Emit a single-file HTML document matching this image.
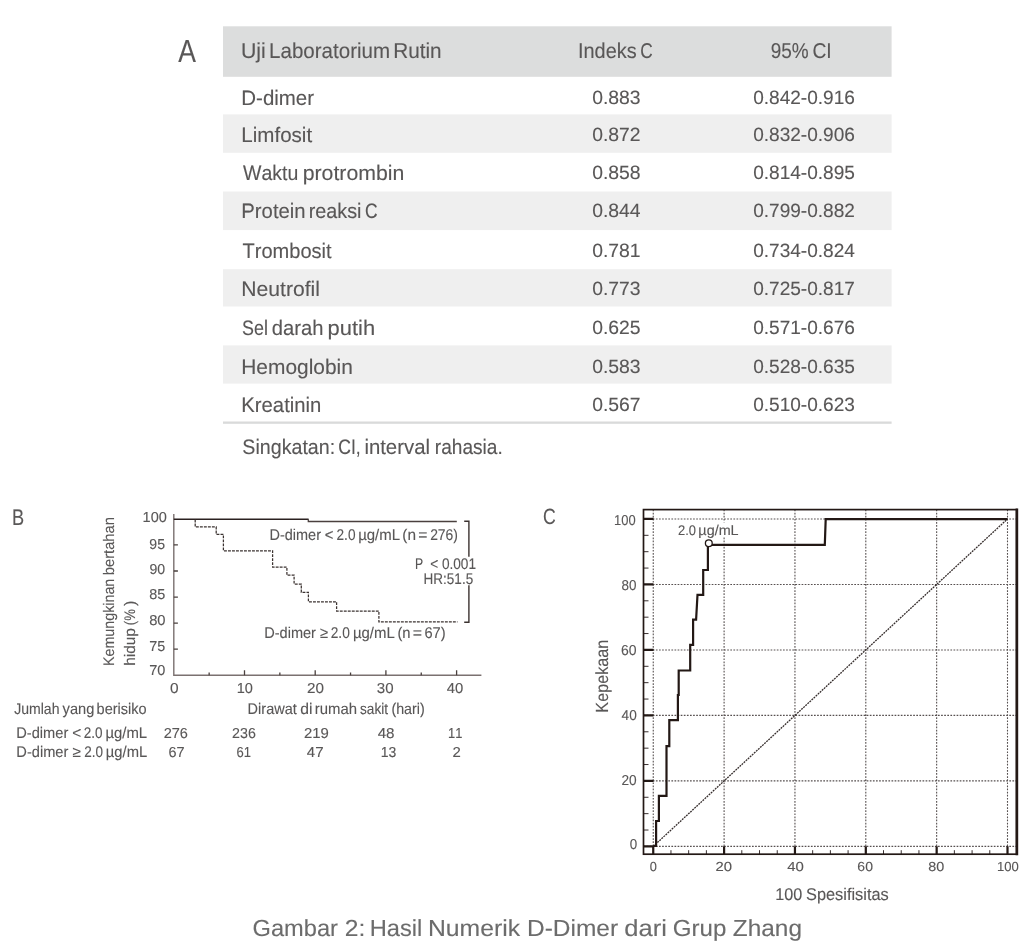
<!DOCTYPE html>
<html><head><meta charset="utf-8"><title>Gambar 2</title>
<style>
html,body{margin:0;padding:0;background:#fff;}
body{width:1024px;height:951px;overflow:hidden;}
svg{display:block;will-change:transform;text-rendering:geometricPrecision;font-family:"Liberation Sans",sans-serif;font-kerning:none;}
</style></head><body>
<svg width="1024" height="951" viewBox="0 0 1024 951">
<rect width="1024" height="951" fill="#fff"/>
<rect x="223" y="26.3" width="668.6" height="50.5" fill="#dcdddd"/>
<rect x="223" y="114.4" width="668.6" height="38.4" fill="#efefef"/>
<rect x="223" y="191.5" width="668.6" height="38.6" fill="#efefef"/>
<rect x="223" y="269.2" width="668.6" height="37.3" fill="#efefef"/>
<rect x="223" y="345.4" width="668.6" height="38.2" fill="#efefef"/>
<rect x="223" y="421.5" width="668.6" height="2.3" fill="#d9dada"/>
<text x="178.15" y="62.00" font-size="31.98" fill="#595757" stroke="#595757" stroke-width="0.12" textLength="17.70" lengthAdjust="spacingAndGlyphs">A</text>
<text x="240.89" y="57.80" font-size="21.51" fill="#595757" stroke="#595757" stroke-width="0.12" textLength="24.81" lengthAdjust="spacingAndGlyphs">Uji</text>
<text x="269.07" y="57.80" font-size="21.51" fill="#595757" stroke="#595757" stroke-width="0.12" textLength="121.02" lengthAdjust="spacingAndGlyphs">Laboratorium</text>
<text x="393.21" y="57.80" font-size="21.51" fill="#595757" stroke="#595757" stroke-width="0.12" textLength="48.43" lengthAdjust="spacingAndGlyphs">Rutin</text>
<text x="577.94" y="57.80" font-size="21.51" fill="#595757" stroke="#595757" stroke-width="0.12" textLength="58.71" lengthAdjust="spacingAndGlyphs">Indeks</text>
<text x="640.35" y="57.80" font-size="21.51" fill="#595757" stroke="#595757" stroke-width="0.12" textLength="12.49" lengthAdjust="spacingAndGlyphs">C</text>
<text x="770.70" y="57.80" font-size="21.51" fill="#595757" stroke="#595757" stroke-width="0.12" textLength="37.98" lengthAdjust="spacingAndGlyphs">95%</text>
<text x="812.43" y="57.80" font-size="21.51" fill="#595757" stroke="#595757" stroke-width="0.12" textLength="19.23" lengthAdjust="spacingAndGlyphs">CI</text>
<text x="241.32" y="105.20" font-size="20.93" fill="#595757" stroke="#595757" stroke-width="0.12" textLength="72.77" lengthAdjust="spacingAndGlyphs">D-dimer</text>
<text x="592.14" y="104.20" font-size="19.35" fill="#595757" stroke="#595757" stroke-width="0.12" textLength="48.41" lengthAdjust="spacingAndGlyphs">0.883</text>
<text x="753.16" y="104.20" font-size="19.35" fill="#595757" stroke="#595757" stroke-width="0.12" textLength="101.78" lengthAdjust="spacingAndGlyphs">0.842-0.916</text>
<text x="241.31" y="141.80" font-size="20.93" fill="#595757" stroke="#595757" stroke-width="0.12" textLength="70.84" lengthAdjust="spacingAndGlyphs">Limfosit</text>
<text x="592.14" y="140.80" font-size="19.35" fill="#595757" stroke="#595757" stroke-width="0.12" textLength="48.41" lengthAdjust="spacingAndGlyphs">0.872</text>
<text x="753.16" y="140.80" font-size="19.35" fill="#595757" stroke="#595757" stroke-width="0.12" textLength="101.78" lengthAdjust="spacingAndGlyphs">0.832-0.906</text>
<text x="243.04" y="180.40" font-size="20.93" fill="#595757" stroke="#595757" stroke-width="0.12" textLength="55.32" lengthAdjust="spacingAndGlyphs">Waktu</text>
<text x="302.70" y="180.40" font-size="20.93" fill="#595757" stroke="#595757" stroke-width="0.12" textLength="101.71" lengthAdjust="spacingAndGlyphs">protrombin</text>
<text x="592.14" y="179.40" font-size="19.35" fill="#595757" stroke="#595757" stroke-width="0.12" textLength="48.41" lengthAdjust="spacingAndGlyphs">0.858</text>
<text x="753.16" y="179.40" font-size="19.35" fill="#595757" stroke="#595757" stroke-width="0.12" textLength="101.78" lengthAdjust="spacingAndGlyphs">0.814-0.895</text>
<text x="241.32" y="218.30" font-size="20.93" fill="#595757" stroke="#595757" stroke-width="0.12" textLength="64.31" lengthAdjust="spacingAndGlyphs">Protein</text>
<text x="308.78" y="218.30" font-size="20.93" fill="#595757" stroke="#595757" stroke-width="0.12" textLength="52.75" lengthAdjust="spacingAndGlyphs">reaksi</text>
<text x="365.03" y="218.30" font-size="20.93" fill="#595757" stroke="#595757" stroke-width="0.12" textLength="12.62" lengthAdjust="spacingAndGlyphs">C</text>
<text x="592.14" y="217.30" font-size="19.35" fill="#595757" stroke="#595757" stroke-width="0.12" textLength="48.41" lengthAdjust="spacingAndGlyphs">0.844</text>
<text x="753.16" y="217.30" font-size="19.35" fill="#595757" stroke="#595757" stroke-width="0.12" textLength="101.78" lengthAdjust="spacingAndGlyphs">0.799-0.882</text>
<text x="242.55" y="258.10" font-size="20.93" fill="#595757" stroke="#595757" stroke-width="0.12" textLength="89.10" lengthAdjust="spacingAndGlyphs">Trombosit</text>
<text x="592.14" y="257.10" font-size="19.35" fill="#595757" stroke="#595757" stroke-width="0.12" textLength="48.41" lengthAdjust="spacingAndGlyphs">0.781</text>
<text x="753.16" y="257.10" font-size="19.35" fill="#595757" stroke="#595757" stroke-width="0.12" textLength="101.78" lengthAdjust="spacingAndGlyphs">0.734-0.824</text>
<text x="241.27" y="296.00" font-size="20.93" fill="#595757" stroke="#595757" stroke-width="0.12" textLength="78.65" lengthAdjust="spacingAndGlyphs">Neutrofil</text>
<text x="592.14" y="295.00" font-size="19.35" fill="#595757" stroke="#595757" stroke-width="0.12" textLength="48.41" lengthAdjust="spacingAndGlyphs">0.773</text>
<text x="753.16" y="295.00" font-size="19.35" fill="#595757" stroke="#595757" stroke-width="0.12" textLength="101.78" lengthAdjust="spacingAndGlyphs">0.725-0.817</text>
<text x="242.11" y="335.40" font-size="20.93" fill="#595757" stroke="#595757" stroke-width="0.12" textLength="25.86" lengthAdjust="spacingAndGlyphs">Sel</text>
<text x="271.84" y="335.40" font-size="20.93" fill="#595757" stroke="#595757" stroke-width="0.12" textLength="51.68" lengthAdjust="spacingAndGlyphs">darah</text>
<text x="327.57" y="335.40" font-size="20.93" fill="#595757" stroke="#595757" stroke-width="0.12" textLength="47.56" lengthAdjust="spacingAndGlyphs">putih</text>
<text x="592.14" y="334.40" font-size="19.35" fill="#595757" stroke="#595757" stroke-width="0.12" textLength="48.41" lengthAdjust="spacingAndGlyphs">0.625</text>
<text x="753.16" y="334.40" font-size="19.35" fill="#595757" stroke="#595757" stroke-width="0.12" textLength="101.78" lengthAdjust="spacingAndGlyphs">0.571-0.676</text>
<text x="241.28" y="373.80" font-size="20.93" fill="#595757" stroke="#595757" stroke-width="0.12" textLength="111.57" lengthAdjust="spacingAndGlyphs">Hemoglobin</text>
<text x="592.14" y="372.80" font-size="19.35" fill="#595757" stroke="#595757" stroke-width="0.12" textLength="48.41" lengthAdjust="spacingAndGlyphs">0.583</text>
<text x="753.16" y="372.80" font-size="19.35" fill="#595757" stroke="#595757" stroke-width="0.12" textLength="101.78" lengthAdjust="spacingAndGlyphs">0.528-0.635</text>
<text x="241.34" y="412.00" font-size="20.93" fill="#595757" stroke="#595757" stroke-width="0.12" textLength="79.98" lengthAdjust="spacingAndGlyphs">Kreatinin</text>
<text x="592.14" y="411.00" font-size="19.35" fill="#595757" stroke="#595757" stroke-width="0.12" textLength="48.41" lengthAdjust="spacingAndGlyphs">0.567</text>
<text x="753.16" y="411.00" font-size="19.35" fill="#595757" stroke="#595757" stroke-width="0.12" textLength="101.78" lengthAdjust="spacingAndGlyphs">0.510-0.623</text>
<text x="242.35" y="454.00" font-size="20.93" fill="#595757" stroke="#595757" stroke-width="0.12" textLength="92.80" lengthAdjust="spacingAndGlyphs">Singkatan:</text>
<text x="338.19" y="454.00" font-size="20.93" fill="#595757" stroke="#595757" stroke-width="0.12" textLength="22.51" lengthAdjust="spacingAndGlyphs">CI,</text>
<text x="364.39" y="454.00" font-size="20.93" fill="#595757" stroke="#595757" stroke-width="0.12" textLength="65.62" lengthAdjust="spacingAndGlyphs">interval</text>
<text x="434.86" y="454.00" font-size="20.93" fill="#595757" stroke="#595757" stroke-width="0.12" textLength="67.86" lengthAdjust="spacingAndGlyphs">rahasia.</text>
<text x="12.10" y="524.60" font-size="22.67" fill="#595757" stroke="#595757" stroke-width="0.12" textLength="12.16" lengthAdjust="spacingAndGlyphs">B</text>
<path d="M173.8 514 V675.2 H481.4" fill="none" stroke="#7b7170" stroke-width="1.4"/>
<path d="M173.8 544.95 H177.9 M173.8 571.00 H177.9 M173.8 597.05 H177.9 M173.8 623.10 H177.9 M173.8 649.15 H177.9 M209.15 675.2 V672.6 M244.50 675.2 V670.2 M279.85 675.2 V672.6 M315.20 675.2 V670.2 M350.55 675.2 V672.6 M385.90 675.2 V670.2 M421.25 675.2 V672.6 M456.60 675.2 V670.2 " fill="none" stroke="#4a403e" stroke-width="1.3"/>
<text x="142.59" y="521.80" font-size="14.40" fill="#595757" stroke="#595757" stroke-width="0.12" textLength="24.28" lengthAdjust="spacingAndGlyphs">100</text>
<text x="149.34" y="548.80" font-size="14.40" fill="#595757" stroke="#595757" stroke-width="0.12" textLength="15.65" lengthAdjust="spacingAndGlyphs">95</text>
<text x="149.44" y="573.70" font-size="14.40" fill="#595757" stroke="#595757" stroke-width="0.12" textLength="15.71" lengthAdjust="spacingAndGlyphs">90</text>
<text x="149.37" y="599.20" font-size="14.40" fill="#595757" stroke="#595757" stroke-width="0.12" textLength="16.03" lengthAdjust="spacingAndGlyphs">85</text>
<text x="149.16" y="625.40" font-size="14.40" fill="#595757" stroke="#595757" stroke-width="0.12" textLength="16.42" lengthAdjust="spacingAndGlyphs">80</text>
<text x="149.27" y="650.90" font-size="14.40" fill="#595757" stroke="#595757" stroke-width="0.12" textLength="15.94" lengthAdjust="spacingAndGlyphs">75</text>
<text x="149.26" y="675.30" font-size="14.40" fill="#595757" stroke="#595757" stroke-width="0.12" textLength="16.11" lengthAdjust="spacingAndGlyphs">70</text>
<text x="170.00" y="693.10" font-size="14.40" fill="#595757" stroke="#595757" stroke-width="0.12" textLength="8.61" lengthAdjust="spacingAndGlyphs">0</text>
<text x="236.69" y="693.10" font-size="14.40" fill="#595757" stroke="#595757" stroke-width="0.12" textLength="16.18" lengthAdjust="spacingAndGlyphs">10</text>
<text x="306.93" y="693.10" font-size="14.40" fill="#595757" stroke="#595757" stroke-width="0.12" textLength="16.96" lengthAdjust="spacingAndGlyphs">20</text>
<text x="376.83" y="693.10" font-size="14.40" fill="#595757" stroke="#595757" stroke-width="0.12" textLength="16.76" lengthAdjust="spacingAndGlyphs">30</text>
<text x="446.76" y="693.10" font-size="14.40" fill="#595757" stroke="#595757" stroke-width="0.12" textLength="16.52" lengthAdjust="spacingAndGlyphs">40</text>
<path d="M173.8 519.3 H308.6" fill="none" stroke="#2b2120" stroke-width="1.6"/>
<path d="M308.3 519.3 V521.5 H456.8" fill="none" stroke="#4a403e" stroke-width="1.3"/>
<path d="M195.2 519.6 V526.9 H216.2 V534.3 H223.4 V550.8 H272.6 V567.1 H286.9 V575.2 H294.1 V584 H301.3 V592.3 H308.4 V601.8 H336.6 V611 H378.9 V621.9 H457.5" fill="none" stroke="#3b3230" stroke-width="1.25" stroke-dasharray="2.9 1.1"/>
<path d="M464.2 521.3 H468.9 V556.8 M468.9 585.3 V622.3 H464.2" fill="none" stroke="#3b3230" stroke-width="1.4"/>
<text x="269.50" y="540.20" font-size="15.55" fill="#595757" stroke="#595757" stroke-width="0.12" textLength="51.45" lengthAdjust="spacingAndGlyphs">D-dimer</text>
<text x="324.87" y="540.20" font-size="15.55" fill="#595757" stroke="#595757" stroke-width="0.12" textLength="8.75" lengthAdjust="spacingAndGlyphs">&lt;</text>
<text x="336.55" y="540.20" font-size="15.55" fill="#595757" stroke="#595757" stroke-width="0.12" textLength="18.95" lengthAdjust="spacingAndGlyphs">2.0</text>
<text x="358.14" y="540.20" font-size="15.55" fill="#595757" stroke="#595757" stroke-width="0.12" textLength="41.89" lengthAdjust="spacingAndGlyphs">µg/mL</text>
<text x="402.28" y="540.20" font-size="15.55" fill="#595757" stroke="#595757" stroke-width="0.12" textLength="13.68" lengthAdjust="spacingAndGlyphs">(n</text>
<text x="418.36" y="540.20" font-size="15.55" fill="#595757" stroke="#595757" stroke-width="0.12" textLength="9.18" lengthAdjust="spacingAndGlyphs">=</text>
<text x="430.13" y="540.20" font-size="15.55" fill="#595757" stroke="#595757" stroke-width="0.12" textLength="27.80" lengthAdjust="spacingAndGlyphs">276)</text>
<text x="264.19" y="638.00" font-size="15.55" fill="#595757" stroke="#595757" stroke-width="0.12" textLength="51.78" lengthAdjust="spacingAndGlyphs">D-dimer</text>
<text x="319.93" y="638.00" font-size="15.55" fill="#595757" stroke="#595757" stroke-width="0.12" textLength="8.12" lengthAdjust="spacingAndGlyphs">≥</text>
<text x="330.74" y="638.00" font-size="15.55" fill="#595757" stroke="#595757" stroke-width="0.12" textLength="19.06" lengthAdjust="spacingAndGlyphs">2.0</text>
<text x="352.92" y="638.00" font-size="15.55" fill="#595757" stroke="#595757" stroke-width="0.12" textLength="41.93" lengthAdjust="spacingAndGlyphs">µg/mL</text>
<text x="397.39" y="638.00" font-size="15.55" fill="#595757" stroke="#595757" stroke-width="0.12" textLength="13.17" lengthAdjust="spacingAndGlyphs">(n</text>
<text x="412.76" y="638.00" font-size="15.55" fill="#595757" stroke="#595757" stroke-width="0.12" textLength="9.29" lengthAdjust="spacingAndGlyphs">=</text>
<text x="424.45" y="638.00" font-size="15.55" fill="#595757" stroke="#595757" stroke-width="0.12" textLength="21.16" lengthAdjust="spacingAndGlyphs">67)</text>
<text x="415.00" y="568.60" font-size="15.41" fill="#595757" stroke="#595757" stroke-width="0.12" textLength="8.15" lengthAdjust="spacingAndGlyphs">P</text>
<text x="430.13" y="568.60" font-size="15.41" fill="#595757" stroke="#595757" stroke-width="0.12" textLength="45.94" lengthAdjust="spacingAndGlyphs">&lt; 0.001</text>
<text x="423.59" y="583.90" font-size="15.41" fill="#595757" stroke="#595757" stroke-width="0.12" textLength="49.58" lengthAdjust="spacingAndGlyphs">HR:51.5</text>
<text transform="translate(113.80,664.86) rotate(-90)" x="-1.17" y="0" font-size="15.26" fill="#595757" stroke="#595757" stroke-width="0.12" textLength="87.32" lengthAdjust="spacingAndGlyphs">Kemungkinan</text>
<text transform="translate(113.80,574.34) rotate(-90)" x="-0.95" y="0" font-size="15.26" fill="#595757" stroke="#595757" stroke-width="0.12" textLength="58.29" lengthAdjust="spacingAndGlyphs">bertahan</text>
<text transform="translate(134.80,664.72) rotate(-90)" x="-1.07" y="0" font-size="15.26" fill="#595757" stroke="#595757" stroke-width="0.12" textLength="37.66" lengthAdjust="spacingAndGlyphs">hidup</text>
<text transform="translate(134.80,624.40) rotate(-90)" x="-0.82" y="0" font-size="15.26" fill="#595757" stroke="#595757" stroke-width="0.12" textLength="16.19" lengthAdjust="spacingAndGlyphs">(%</text>
<text transform="translate(134.80,605.98) rotate(-90)" x="-0.09" y="0" font-size="15.26" fill="#595757" stroke="#595757" stroke-width="0.12" textLength="5.35" lengthAdjust="spacingAndGlyphs">)</text>
<text x="14.13" y="713.60" font-size="15.41" fill="#595757" stroke="#595757" stroke-width="0.12" textLength="45.34" lengthAdjust="spacingAndGlyphs">Jumlah</text>
<text x="62.59" y="713.60" font-size="15.41" fill="#595757" stroke="#595757" stroke-width="0.12" textLength="31.72" lengthAdjust="spacingAndGlyphs">yang</text>
<text x="96.59" y="713.60" font-size="15.41" fill="#595757" stroke="#595757" stroke-width="0.12" textLength="49.99" lengthAdjust="spacingAndGlyphs">berisiko</text>
<text x="247.62" y="714.00" font-size="15.41" fill="#595757" stroke="#595757" stroke-width="0.12" textLength="49.18" lengthAdjust="spacingAndGlyphs">Dirawat</text>
<text x="300.29" y="714.00" font-size="15.41" fill="#595757" stroke="#595757" stroke-width="0.12" textLength="12.23" lengthAdjust="spacingAndGlyphs">di</text>
<text x="314.78" y="714.00" font-size="15.41" fill="#595757" stroke="#595757" stroke-width="0.12" textLength="42.23" lengthAdjust="spacingAndGlyphs">rumah</text>
<text x="360.02" y="714.00" font-size="15.41" fill="#595757" stroke="#595757" stroke-width="0.12" textLength="27.97" lengthAdjust="spacingAndGlyphs">sakit</text>
<text x="391.39" y="714.00" font-size="15.41" fill="#595757" stroke="#595757" stroke-width="0.12" textLength="33.32" lengthAdjust="spacingAndGlyphs">(hari)</text>
<text x="16.31" y="738.00" font-size="15.41" fill="#595757" stroke="#595757" stroke-width="0.12" textLength="52.02" lengthAdjust="spacingAndGlyphs">D-dimer</text>
<text x="72.16" y="738.00" font-size="15.41" fill="#595757" stroke="#595757" stroke-width="0.12" textLength="8.97" lengthAdjust="spacingAndGlyphs">&lt;</text>
<text x="83.74" y="738.00" font-size="15.41" fill="#595757" stroke="#595757" stroke-width="0.12" textLength="18.76" lengthAdjust="spacingAndGlyphs">2.0</text>
<text x="105.43" y="738.00" font-size="15.41" fill="#595757" stroke="#595757" stroke-width="0.12" textLength="41.72" lengthAdjust="spacingAndGlyphs">µg/mL</text>
<text x="16.32" y="757.40" font-size="15.41" fill="#595757" stroke="#595757" stroke-width="0.12" textLength="52.01" lengthAdjust="spacingAndGlyphs">D-dimer</text>
<text x="72.43" y="757.40" font-size="15.41" fill="#595757" stroke="#595757" stroke-width="0.12" textLength="8.42" lengthAdjust="spacingAndGlyphs">≥</text>
<text x="84.15" y="757.40" font-size="15.41" fill="#595757" stroke="#595757" stroke-width="0.12" textLength="18.76" lengthAdjust="spacingAndGlyphs">2.0</text>
<text x="105.83" y="757.40" font-size="15.41" fill="#595757" stroke="#595757" stroke-width="0.12" textLength="41.33" lengthAdjust="spacingAndGlyphs">µg/mL</text>
<text x="163.67" y="738.40" font-size="14.39" fill="#595757" stroke="#595757" stroke-width="0.12" textLength="24.27" lengthAdjust="spacingAndGlyphs">276</text>
<text x="232.08" y="738.40" font-size="14.39" fill="#595757" stroke="#595757" stroke-width="0.12" textLength="23.74" lengthAdjust="spacingAndGlyphs">236</text>
<text x="304.05" y="738.40" font-size="14.39" fill="#595757" stroke="#595757" stroke-width="0.12" textLength="24.85" lengthAdjust="spacingAndGlyphs">219</text>
<text x="377.65" y="738.40" font-size="14.39" fill="#595757" stroke="#595757" stroke-width="0.12" textLength="16.91" lengthAdjust="spacingAndGlyphs">48</text>
<text x="448.12" y="738.40" font-size="14.39" fill="#595757" stroke="#595757" stroke-width="0.12" textLength="14.31" lengthAdjust="spacingAndGlyphs">11</text>
<text x="168.57" y="756.60" font-size="14.39" fill="#595757" stroke="#595757" stroke-width="0.12" textLength="16.06" lengthAdjust="spacingAndGlyphs">67</text>
<text x="236.44" y="756.60" font-size="14.39" fill="#595757" stroke="#595757" stroke-width="0.12" textLength="14.50" lengthAdjust="spacingAndGlyphs">61</text>
<text x="306.86" y="756.60" font-size="14.39" fill="#595757" stroke="#595757" stroke-width="0.12" textLength="16.70" lengthAdjust="spacingAndGlyphs">47</text>
<text x="380.63" y="756.60" font-size="14.39" fill="#595757" stroke="#595757" stroke-width="0.12" textLength="15.58" lengthAdjust="spacingAndGlyphs">13</text>
<text x="452.45" y="756.60" font-size="14.39" fill="#595757" stroke="#595757" stroke-width="0.12" textLength="8.30" lengthAdjust="spacingAndGlyphs">2</text>
<text x="542.90" y="524.30" font-size="22.24" fill="#595757" stroke="#595757" stroke-width="0.12" textLength="12.77" lengthAdjust="spacingAndGlyphs">C</text>
<path d="M653.25 509.6 V854.2 M643.5 846.40 H1016.6 M724.10 509.6 V854.2 M643.5 780.91 H1016.6 M794.95 509.6 V854.2 M643.5 715.42 H1016.6 M865.80 509.6 V854.2 M643.5 649.93 H1016.6 M936.65 509.6 V854.2 M643.5 584.44 H1016.6 M1007.50 509.6 V854.2 M643.5 518.95 H1016.6 " fill="none" stroke="#575050" stroke-width="1.1" stroke-dasharray="1.7 1.4"/>
<path d="M653.25 846.40 L1007.50 518.95" fill="none" stroke="#352d2c" stroke-width="1.3" stroke-dasharray="1.9 0.9"/>
<path d="M643.5 846.40 H653.5 M653.25 854.2 V846.2 M643.5 780.91 H653.5 M724.10 854.2 V846.2 M643.5 715.42 H653.5 M794.95 854.2 V846.2 M643.5 649.93 H653.5 M865.80 854.2 V846.2 M643.5 584.44 H653.5 M936.65 854.2 V846.2 M643.5 518.95 H653.5 M1007.50 854.2 V846.2 " fill="none" stroke="#231815" stroke-width="2.2"/>
<path d="M643.5 830.03 H648.5 M670.96 854.2 V850.2 M643.5 813.65 H648.5 M688.67 854.2 V850.2 M643.5 797.28 H648.5 M706.39 854.2 V850.2 M643.5 764.54 H648.5 M741.81 854.2 V850.2 M643.5 748.16 H648.5 M759.52 854.2 V850.2 M643.5 731.79 H648.5 M777.24 854.2 V850.2 M643.5 699.05 H648.5 M812.66 854.2 V850.2 M643.5 682.67 H648.5 M830.38 854.2 V850.2 M643.5 666.30 H648.5 M848.09 854.2 V850.2 M643.5 633.56 H648.5 M883.51 854.2 V850.2 M643.5 617.18 H648.5 M901.23 854.2 V850.2 M643.5 600.81 H648.5 M918.94 854.2 V850.2 M643.5 568.07 H648.5 M954.36 854.2 V850.2 M643.5 551.69 H648.5 M972.08 854.2 V850.2 M643.5 535.32 H648.5 M989.79 854.2 V850.2 " fill="none" stroke="#3a3030" stroke-width="1.0"/>
<rect x="643.5" y="509.6" width="373.1" height="344.6" fill="none" stroke="#231815" stroke-width="1.7"/>
<path d="M1016.9 508.6 V855.2" fill="none" stroke="#231815" stroke-width="2.6"/>
<path d="M653.3 845.9 H656.1 V821 H658.9 V795.8 H666.5 V746.2 H669.3 V720.1 H677.9 V695 H678.7 V670.5 H690.2 V644.8 H693.1 V619.7 H696.1 L697.5 594.8 H703.2 V570 H707.9 V544.8 H824.8 L825.7 519.1 H1007.5" fill="none" stroke="#231815" stroke-width="2.2" stroke-linejoin="miter"/>
<circle cx="708.8" cy="543.2" r="3.4" fill="#fff" stroke="#231815" stroke-width="1.3"/>
<rect x="676" y="522.4" width="65" height="14.4" fill="#fff"/>
<text x="678.08" y="534.90" font-size="14.04" fill="#595757" stroke="#595757" stroke-width="0.12" textLength="18.00" lengthAdjust="spacingAndGlyphs">2.0</text>
<text x="698.39" y="534.90" font-size="14.04" fill="#595757" stroke="#595757" stroke-width="0.12" textLength="40.22" lengthAdjust="spacingAndGlyphs">µg/mL</text>
<text x="614.11" y="525.00" font-size="14.32" fill="#595757" stroke="#595757" stroke-width="0.12" textLength="21.59" lengthAdjust="spacingAndGlyphs">100</text>
<text x="621.62" y="589.60" font-size="14.32" fill="#595757" stroke="#595757" stroke-width="0.12" textLength="14.91" lengthAdjust="spacingAndGlyphs">80</text>
<text x="621.09" y="654.80" font-size="14.32" fill="#595757" stroke="#595757" stroke-width="0.12" textLength="15.56" lengthAdjust="spacingAndGlyphs">60</text>
<text x="621.59" y="719.80" font-size="14.32" fill="#595757" stroke="#595757" stroke-width="0.12" textLength="15.14" lengthAdjust="spacingAndGlyphs">40</text>
<text x="621.51" y="784.80" font-size="14.32" fill="#595757" stroke="#595757" stroke-width="0.12" textLength="15.22" lengthAdjust="spacingAndGlyphs">20</text>
<text x="629.78" y="849.40" font-size="14.32" fill="#595757" stroke="#595757" stroke-width="0.12" textLength="7.45" lengthAdjust="spacingAndGlyphs">0</text>
<text x="649.80" y="871.40" font-size="13.18" fill="#595757" stroke="#595757" stroke-width="0.12" textLength="7.10" lengthAdjust="spacingAndGlyphs">0</text>
<text x="715.55" y="871.40" font-size="13.18" fill="#595757" stroke="#595757" stroke-width="0.12" textLength="16.53" lengthAdjust="spacingAndGlyphs">20</text>
<text x="787.26" y="871.40" font-size="13.18" fill="#595757" stroke="#595757" stroke-width="0.12" textLength="16.63" lengthAdjust="spacingAndGlyphs">40</text>
<text x="857.39" y="871.40" font-size="13.18" fill="#595757" stroke="#595757" stroke-width="0.12" textLength="15.56" lengthAdjust="spacingAndGlyphs">60</text>
<text x="928.28" y="871.40" font-size="13.18" fill="#595757" stroke="#595757" stroke-width="0.12" textLength="15.99" lengthAdjust="spacingAndGlyphs">80</text>
<text x="997.00" y="871.40" font-size="13.18" fill="#595757" stroke="#595757" stroke-width="0.12" textLength="21.81" lengthAdjust="spacingAndGlyphs">100</text>
<text transform="translate(607.90,711.30) rotate(-90)" x="-1.33" y="0" font-size="17.59" fill="#595757" stroke="#595757" stroke-width="0.12" textLength="72.88" lengthAdjust="spacingAndGlyphs">Kepekaan</text>
<text x="775.36" y="899.90" font-size="17.01" fill="#595757" stroke="#595757" stroke-width="0.12" textLength="26.98" lengthAdjust="spacingAndGlyphs">100</text>
<text x="806.07" y="899.90" font-size="17.01" fill="#595757" stroke="#595757" stroke-width="0.12" textLength="82.61" lengthAdjust="spacingAndGlyphs">Spesifisitas</text>
<text x="252.57" y="935.90" font-size="23.26" fill="#6c6c6c" stroke="#6c6c6c" stroke-width="0.12" textLength="85.35" lengthAdjust="spacingAndGlyphs">Gambar</text>
<text x="344.87" y="935.90" font-size="23.26" fill="#6c6c6c" stroke="#6c6c6c" stroke-width="0.12" textLength="20.57" lengthAdjust="spacingAndGlyphs">2:</text>
<text x="369.68" y="935.90" font-size="23.26" fill="#6c6c6c" stroke="#6c6c6c" stroke-width="0.12" textLength="52.58" lengthAdjust="spacingAndGlyphs">Hasil</text>
<text x="427.96" y="935.90" font-size="23.26" fill="#6c6c6c" stroke="#6c6c6c" stroke-width="0.12" textLength="92.12" lengthAdjust="spacingAndGlyphs">Numerik</text>
<text x="527.02" y="935.90" font-size="23.26" fill="#6c6c6c" stroke="#6c6c6c" stroke-width="0.12" textLength="91.06" lengthAdjust="spacingAndGlyphs">D-Dimer</text>
<text x="624.33" y="935.90" font-size="23.26" fill="#6c6c6c" stroke="#6c6c6c" stroke-width="0.12" textLength="42.58" lengthAdjust="spacingAndGlyphs">dari</text>
<text x="672.86" y="935.90" font-size="23.26" fill="#6c6c6c" stroke="#6c6c6c" stroke-width="0.12" textLength="53.58" lengthAdjust="spacingAndGlyphs">Grup</text>
<text x="732.83" y="935.90" font-size="23.26" fill="#6c6c6c" stroke="#6c6c6c" stroke-width="0.12" textLength="69.13" lengthAdjust="spacingAndGlyphs">Zhang</text>
</svg>
</body></html>
